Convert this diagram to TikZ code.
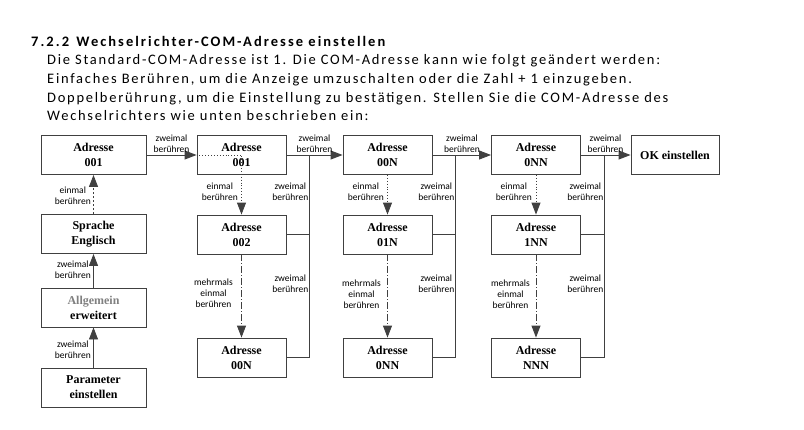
\documentclass[tikz,border=0pt]{standalone}
\usepackage{fontspec}
\setmainfont{Carlito}
\newfontfamily\weitfont[LetterSpace=12]{Carlito}
\newfontfamily\titelfont[LetterSpace=14]{Carlito}
\newfontfamily\boxfont{Liberation Serif}
\usetikzlibrary{arrows.meta}
\definecolor{liniengrau}{HTML}{404040}

\begin{document}
\begin{tikzpicture}[x=1pt,y=-1pt,
    kasten/.style={draw=liniengrau,line width=0.9pt,minimum width=89pt,minimum height=39pt,inner sep=0pt,align=center,font=\boxfont\bfseries\fontsize{12}{15}\selectfont},
    linie/.style={draw=liniengrau,line width=0.9pt},
    pfeil/.style={linie,-{Triangle[length=12pt,width=9pt]}},
    strichpunkt/.style={dash pattern=on 7pt off 2pt on 1pt off 2pt},
    klein/.style={font=\fontsize{9.5}{11}\selectfont,align=center,inner sep=1pt},
    zeile/.style={anchor=base west,inner sep=0pt,font=\weitfont\fontsize{14.5}{18}\selectfont}]
    \useasboundingbox (0,0) rectangle (804,429);
    % Ueberschrift und Text
    \node[zeile,font=\titelfont\bfseries\fontsize{14.5}{18}\selectfont] (titel) at (31,46) {7.2.2\hspace{0.5em}Wechselrichter-COM-Adresse einstellen};
    \node[zeile] (zeile1) at (47,64.5) {Die Standard-COM-Adresse ist 1. Die COM-Adresse kann wie folgt geändert werden:};
    \node[zeile] (zeile2) at (47,83.3) {Einfaches Berühren, um die Anzeige umzuschalten oder die Zahl + 1 einzugeben.};
    \node[zeile] (zeile3) at (47,102) {Doppelberührung, um die Einstellung zu bestätigen. Stellen Sie die COM-Adresse des};
    \node[zeile] (zeile4) at (47,120.7) {Wechselrichters wie unten beschrieben ein:};
    % Kaesten
    \node[kasten,minimum width=105pt] (a1) at (93.5,155) {Adresse\\001};
    \node[kasten,minimum width=105pt] (a2) at (93.5,234) {Sprache\\Englisch};
    \node[kasten,minimum width=105pt] (a3) at (93.5,307.5) {\textcolor{gray}{Allgemein}\\erweitert};
    \node[kasten,minimum width=105pt] (a4) at (93.5,387.5) {Parameter\\einstellen};
    \node[kasten] (b1) at (241.5,155) {Adresse\\001};
    \node[kasten] (b2) at (241.5,234.5) {Adresse\\002};
    \node[kasten] (b3) at (241.5,357.5) {Adresse\\00N};
    \node[kasten] (c1) at (387.5,155) {Adresse\\00N};
    \node[kasten] (c2) at (387.5,234.5) {Adresse\\01N};
    \node[kasten] (c3) at (387.5,357.5) {Adresse\\0NN};
    \node[kasten] (d1) at (536,155) {Adresse\\0NN};
    \node[kasten] (d2) at (536,234.5) {Adresse\\1NN};
    \node[kasten] (d3) at (536,357.5) {Adresse\\NNN};
    \node[kasten,minimum width=88pt] (ok) at (675,155) {OK einstellen};
    \coordinate (jb) at (309,155);
    \coordinate (jc) at (455,155);
    \coordinate (jd) at (604,155);
    % Spalte 1
    \draw[pfeil,dash pattern=on 2pt off 2pt] (a2.north) -- (a1.south);
    \draw[pfeil] (a3.north) -- (a2.south);
    \draw[pfeil] (a4.north) -- (a3.south);
    \node[klein,anchor=east] (e1) at (92,196) {einmal\\berühren};
    \node[klein,anchor=east] (e2) at (92,270) {zweimal\\berühren};
    \node[klein,anchor=east] (e3) at (92,350) {zweimal\\berühren};
    % waagrechte Pfeile
    \draw[pfeil] (a1.east) -- (b1.west);
    \draw[pfeil] (b1.east) -- (c1.west);
    \draw[pfeil] (c1.east) -- (d1.west);
    \draw[pfeil] (d1.east) -- (ok.west);
    \node[klein,anchor=south] (h1) at (171.5,154) {zweimal\\berühren};
    \node[klein,anchor=south] (h2) at (314.5,154) {zweimal\\berühren};
    \node[klein,anchor=south] (h3) at (462,154) {zweimal\\berühren};
    \node[klein,anchor=south] (h4) at (605.5,154) {zweimal\\berühren};
    % Spalte 2
    \draw[pfeil,dotted] (b1.west) -- (b1.center) -- (b2.north);
    \draw[pfeil,strichpunkt] (b2.south) -- (b3.north);
    \draw[linie] (b2.east) -- (b2.east -| jb);
    \draw[linie] (b3.east) -| (jb);
    \node[klein,anchor=east] (f1) at (239,192) {einmal\\berühren};
    \node[klein,anchor=east] (f2) at (234,293.5) {mehrmals\\einmal\\berühren};
    \node[klein,anchor=east] (f3) at (309.5,192) {zweimal\\berühren};
    \node[klein,anchor=east] (f4) at (309.5,284) {zweimal\\berühren};
    % Spalte 3
    \draw[pfeil,dotted] (c1.south) -- (c2.north);
    \draw[pfeil,strichpunkt] (c2.south) -- (c3.north);
    \draw[linie] (c2.east) -- (c2.east -| jc);
    \draw[linie] (c3.east) -| (jc);
    \node[klein,anchor=east] (g1) at (385,192) {einmal\\berühren};
    \node[klein,anchor=east] (g2) at (382,294) {mehrmals\\einmal\\berühren};
    \node[klein,anchor=east] (g3) at (455.5,192) {zweimal\\berühren};
    \node[klein,anchor=east] (g4) at (455.5,284) {zweimal\\berühren};
    % Spalte 4
    \draw[pfeil,dotted] (d1.south) -- (d2.north);
    \draw[pfeil,strichpunkt] (d2.south) -- (d3.north);
    \draw[linie] (d2.east) -- (d2.east -| jd);
    \draw[linie] (d3.east) -| (jd);
    \node[klein,anchor=east] (k1) at (533,192) {einmal\\berühren};
    \node[klein,anchor=east] (k2) at (531,294) {mehrmals\\einmal\\berühren};
    \node[klein,anchor=east] (k3) at (604.5,192) {zweimal\\berühren};
    \node[klein,anchor=east] (k4) at (604.5,284) {zweimal\\berühren};
\end{tikzpicture}
\end{document}
